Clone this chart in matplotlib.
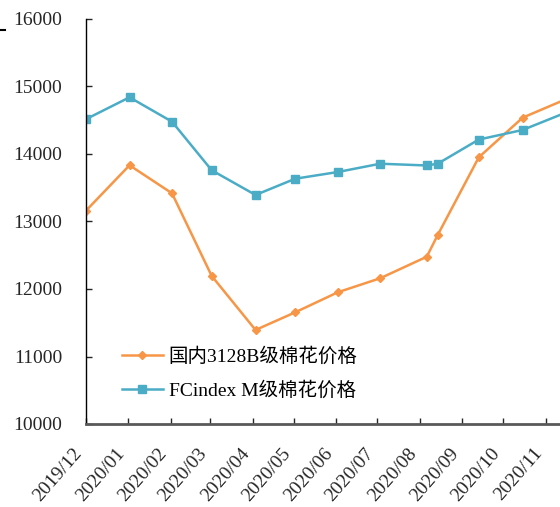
import matplotlib
matplotlib.use('Agg')
import matplotlib.pyplot as plt
from matplotlib.lines import Line2D
import pandas as pd

plt.rcParams['font.family'] = ['Liberation Serif', 'Noto Sans CJK SC']

# 数据
dates = pd.to_datetime(['2019-12-01', '2020-01-02', '2020-02-02', '2020-03-02',
                        '2020-04-03', '2020-05-02', '2020-06-02', '2020-07-03',
                        '2020-08-06', '2020-08-14', '2020-09-13', '2020-10-15',
                        '2020-11-16'])
domestic = [13156, 13833, 13418, 12193, 11393, 11655, 11951, 12159,
            12478, 12800, 13951, 14538, 14815]
fcindex = [14514, 14840, 14479, 13759, 13393, 13634, 13733, 13856,
           13830, 13856, 14214, 14356, 14617]
tick_dates = pd.date_range('2019-12-01', '2020-11-01', freq='MS')
tick_labels = [d.strftime('%Y/%m') for d in tick_dates]
yticks = [10000, 11000, 12000, 13000, 14000, 15000, 16000]

fig = plt.figure(figsize=(5.6, 5.07), dpi=100)
# 坐标轴右侧超出画布（原图被裁切）
ax = fig.add_axes([85.7 / 560, 83 / 507, 501.3 / 560, 405 / 507])

ax.plot(dates, domestic, color='#F79646', lw=1.8, marker='D', ms=4,
        label='国内3128B级棉花价格')
ax.plot(dates, fcindex, color='#4BACC6', lw=1.8, marker='s', ms=5.5,
        label='FCindex M级棉花价格')

ax.set_xlim(pd.Timestamp('2019-12-01'), pd.Timestamp('2020-12-01'))
ax.set_ylim(10000, 16000)
ax.set_yticks(yticks)
ax.set_yticklabels([str(v) for v in yticks])
ax.set_xticks(tick_dates)
ax.set_xticklabels(tick_labels, rotation=49, ha='right')

ax.tick_params(axis='both', direction='in', length=4, width=1,
               labelsize=14, labelcolor='#262626', colors='#262626')
ax.tick_params(axis='y', pad=17)
ax.tick_params(axis='x', pad=15)

for s in ['top', 'right']:
    ax.spines[s].set_visible(False)
ax.spines['left'].set_color('#000000')
ax.spines['left'].set_linewidth(1)
ax.spines['bottom'].set_color('#595959')
ax.spines['bottom'].set_linewidth(2)

ax.legend(loc='center left', bbox_to_anchor=(0.0724, 0.125), frameon=False,
          fontsize=14, handlelength=2.1, handletextpad=0.3, labelspacing=0.8,
          borderpad=0, borderaxespad=0)

# 左上角的小横线
fig.add_artist(Line2D([0, 5 / 560], [1 - 30 / 507, 1 - 30 / 507],
                      color='black', lw=1.5, transform=fig.transFigure))

fig.savefig('out.png', dpi=100)
